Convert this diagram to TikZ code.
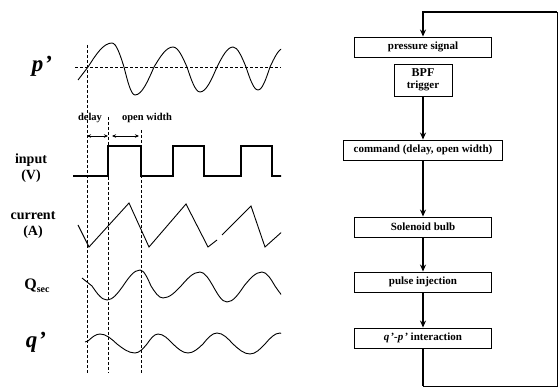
\documentclass[tikz,border=0pt]{standalone}
\usepackage{fontspec}
\setmainfont{Liberation Serif}
\usetikzlibrary{arrows.meta,positioning}

\tikzset{
  blk/.style={draw,line width=0.9pt,minimum width=137pt,minimum height=20pt,inner sep=2pt,
    font=\fontsize{11}{12}\selectfont\bfseries},
  flow/.style={line width=1.6pt,-{Stealth[length=7pt,width=6pt]}},
  guide/.style={densely dashed,line width=0.8pt},
  wave/.style={line width=0.9pt},
  dimarr/.style={line width=0.8pt,{Stealth[length=4pt,width=3.5pt]}-{Stealth[length=4pt,width=3.5pt]}},
  lbl/.style={font=\fontsize{14}{14}\selectfont\bfseries,inner sep=0pt,align=center},
  sym/.style={font=\fontsize{23}{23}\selectfont\bfseries\itshape,inner sep=0pt},
  small/.style={font=\fontsize{10.5}{11}\selectfont\bfseries,inner sep=0pt},
}

\begin{document}
\begin{tikzpicture}[x=1pt,y=-1pt,>=Stealth]
  \useasboundingbox (0,0) rectangle (560,390);
  % signal names
  \node[sym] (lp) at (42,66) {p\kern1pt'};
  \node[lbl] (lin) at (31,168) {input\\[2pt](V)};
  \node[lbl] (lcur) at (33,225) {current\\[2pt](A)};
  \node[lbl,font=\fontsize{16}{16}\selectfont\bfseries] (lq) at (37,286)
    {Q\raisebox{-3pt}{\fontsize{10}{10}\selectfont sec}};
  \node[sym] (lqp) at (36,342) {q\kern1pt'};
  \node[small] (ldel) at (90,118) {delay};
  \node[small] (lopen) at (147,118) {open width};
  % timing guides
  \draw[guide] (75,67) -- (281,67);
  \draw[guide] (87,45) -- (87,373);
  \draw[guide] (108,117) -- (108,373);
  \draw[guide] (141,130) -- (141,373);
  \draw[dimarr] (87,136) -- (108,136);
  \draw[dimarr] (112,136) -- (139,136);
  % waveforms
  \begin{scope}
    \clip (60,30) rectangle (281,380);
    \draw[wave] (78,80) -- (88,67) sin (112,43) cos (124,67) sin (135,95) cos (154,67)
      sin (173,47) cos (187,67) sin (200,92) cos (217,67) sin (233,47) cos (246,67)
      sin (258,90) cos (270,67) sin (284,48);
    \draw[wave,line width=1.1pt] (73,176) -- (108,176) -- (108,146) -- (141,146) -- (141,176)
      -- (173,176) -- (173,146) -- (204,146) -- (204,176) -- (241,176) -- (241,146)
      -- (272,146) -- (272,176) -- (284,176);
    \draw[wave] (78,225) -- (89,247) -- (129,203) -- (149,247) -- (186,204) -- (208,247) -- (217,240);
    \draw[wave] (222,235) -- (251,206) -- (265,247) -- (284,230);
    \draw[wave] (82,278) -- (92,286) sin (107,300) cos (123,286) sin (140,270) cos (151,286)
      sin (163,298) cos (181,286) sin (200,272) cos (213,286) sin (227,302) cos (244,286)
      sin (262,272) cos (275,286) sin (290,300);
    \draw[wave] (85,342) -- (88,341) sin (100,334) cos (117,344) sin (135,353) cos (147,344)
      sin (158,334) cos (173,344) sin (188,353) cos (203,344) sin (217,333) cos (233,344)
      sin (250,354) cos (265,344) sin (280,333) cos (292,344);
  \end{scope}
  % control loop
  \node[blk] (psig) at (423,47) {pressure signal};
  \node[blk,minimum width=58pt,minimum height=32pt,align=center] (bpf) at (423,80)
    {{\fontsize{12}{13}\selectfont BPF}\\trigger};
  \node[blk,inner xsep=10pt] (cmd) at (423,150) {command (delay, open width)};
  \node[blk] (sol) at (423,227) {Solenoid bulb};
  \node[blk] (pinj) at (423,282) {pulse injection};
  \node[blk] (qp) at (423,338) {{\itshape q\kern1pt'-p\kern1pt'} interaction};
  \coordinate (rb) at (557,386);
  \coordinate (rt) at (557,12);
  \draw[flow] (bpf) -- (cmd);
  \draw[flow] (cmd) -- (sol);
  \draw[flow] (sol) -- (pinj);
  \draw[flow] (pinj) -- (qp);
  \draw[line width=1.6pt] (qp.south) -- (qp.south |- rb);
  \draw[line width=0.9pt] (qp.south |- rb) -- (rb) -- (rt);
  \draw[flow] (rt) -| (psig.north);
\end{tikzpicture}
\end{document}
